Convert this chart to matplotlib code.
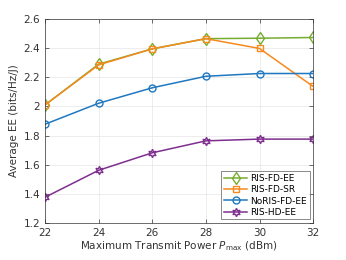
import matplotlib
matplotlib.use("Agg")
import matplotlib.pyplot as plt

# P_max (dBm) vs average energy efficiency (bits/Hz/J)
p_max = [22, 24, 26, 28, 30, 32]
ris_fd_ee = [2.01, 2.29, 2.395, 2.465, 2.468, 2.473]
ris_fd_sr = [2.01, 2.285, 2.395, 2.465, 2.398, 2.137]
noris_fd_ee = [1.878, 2.022, 2.128, 2.207, 2.226, 2.226]
ris_hd_ee = [1.377, 1.562, 1.682, 1.764, 1.776, 1.776]

GREEN = "#77AC30"
ORANGE = "#F58A1F"
BLUE = "#1F78C0"
PURPLE = "#7E2F8E"

plt.rcParams["font.family"] = "DejaVu Sans"
fig = plt.figure(figsize=(3.46, 2.6), dpi=100)
ax = fig.add_axes([0.130, 0.142, 0.775, 0.785])

ms = 5.0
ax.plot(p_max, ris_fd_ee, color=GREEN, marker="d", ms=ms + 1, mfc="none", lw=1.1, mew=1.0, label="RIS-FD-EE")
ax.plot(p_max, ris_fd_sr, color=ORANGE, marker="s", ms=ms - 0.5, mfc="none", lw=1.1, mew=1.0, label="RIS-FD-SR")
ax.plot(p_max, noris_fd_ee, color=BLUE, marker="o", ms=ms, mfc="none", lw=1.1, mew=1.0, label="NoRIS-FD-EE")
ax.plot(p_max, ris_hd_ee, color=PURPLE, marker=(6, 1, 0), ms=ms + 1, mfc="none", lw=1.1, mew=1.0, label="RIS-HD-EE")

ax.set_xlim(22, 32)
ax.set_ylim(1.2, 2.6)
ax.set_xticks(p_max)
ax.set_yticks([1.2, 1.4, 1.6, 1.8, 2.0, 2.2, 2.4, 2.6])
ax.set_yticklabels(["1.2", "1.4", "1.6", "1.8", "2", "2.2", "2.4", "2.6"])
ax.tick_params(direction="in", top=True, right=True, labelsize=7.5, length=3, width=0.5, colors="#333333")
ax.grid(True, color="#E6E6E6", lw=0.5)
ax.set_axisbelow(True)
for s in ax.spines.values():
    s.set_color("#333333")
    s.set_linewidth(0.5)

ax.set_xlabel("Maximum Transmit Power $P_{\\rm max}$ (dBm)", fontsize=7.5, labelpad=1, color="#333333")
ax.set_ylabel("Average EE (bits/Hz/J)", fontsize=7.5, labelpad=3, color="#333333")

leg = ax.legend(loc="lower right", fontsize=6.5, frameon=True, fancybox=False, edgecolor="#333333",
                borderpad=0.3, labelspacing=0.25, handlelength=2.6, handletextpad=0.3,
                borderaxespad=0.4)
leg.get_frame().set_linewidth(0.5)

fig.savefig("out.png", dpi=100)
